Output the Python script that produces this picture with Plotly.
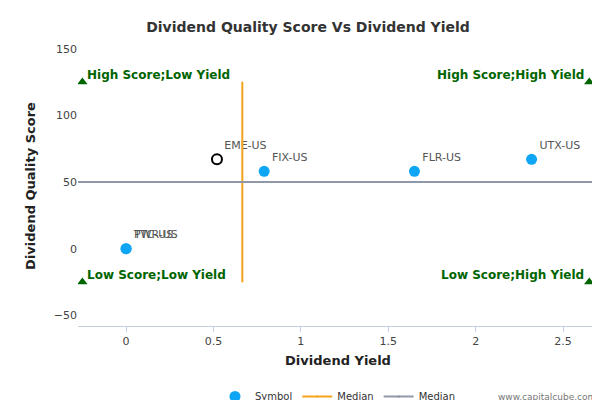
import plotly.graph_objects as go

# Data
symbols = ["PWR-US", "TTC-US", "FIX-US", "FLR-US", "UTX-US"]
yields = [0.0, 0.0, 0.79, 1.65, 2.32]
scores = [0, 0, 58, 58, 67]

focus_symbol = ["EME-US"]
focus_yield = [0.52]
focus_score = [67]

median_yield = 0.665
median_score = 50
x_min, x_max = -0.25, 2.65
score_lo, score_hi = -25, 125

corner_text = ["High Score;Low Yield", "High Score;High Yield",
               "Low Score;Low Yield", "Low Score;High Yield"]
corner_x = [x_min, x_max, x_min, x_max]
corner_y = [score_hi, score_hi, score_lo, score_lo]

font = "DejaVu Sans"
fig = go.Figure()

fig.add_trace(go.Scatter(
    x=yields, y=scores, mode="markers+text", name="Symbol",
    text=symbols, textposition="top right",
    textfont=dict(size=11, color="#555555"),
    marker=dict(size=11, color="#0ea5f5"),
))
fig.add_trace(go.Scatter(
    x=focus_yield, y=focus_score, mode="markers+text", showlegend=False,
    text=focus_symbol, textposition="top right",
    textfont=dict(size=11, color="#555555"),
    marker=dict(size=10, color="white", line=dict(color="black", width=2)),
))
fig.add_trace(go.Scatter(
    x=[median_yield, median_yield], y=[score_lo, score_hi], mode="lines+markers",
    name="Median", line=dict(color="#f7a21b", width=2),
    marker=dict(symbol="diamond", size=1, color="#f7a21b"),
))
fig.add_trace(go.Scatter(
    x=[-0.3, 2.75], y=[median_score, median_score], mode="lines+markers",
    name="Median", line=dict(color="#8f98a8", width=2),
    marker=dict(symbol="square", size=1, color="#8f98a8"),
))
fig.add_trace(go.Scatter(
    x=corner_x, y=corner_y, mode="markers", showlegend=False,
    marker=dict(symbol="triangle-up", size=9, color="#006400"),
))

for t, x, y in zip(corner_text, corner_x, corner_y):
    left = x == x_min
    fig.add_annotation(
        x=x, y=y, text="<b>%s</b>" % t, showarrow=False,
        xanchor="left" if left else "right", yanchor="bottom",
        xshift=3 if left else -3, yshift=-2,
        font=dict(size=12, color="#006400", family=font),
    )

fig.add_annotation(
    x=1, y=0, xref="paper", yref="paper", yshift=-78, xanchor="right",
    text="www.capitalcube.com", showarrow=False,
    font=dict(size=9, color="#777777"),
)

fig.update_layout(
    width=600, height=400,
    paper_bgcolor="white", plot_bgcolor="white",
    font=dict(family=font, size=11, color="#444444"),
    title=dict(text="<b>Dividend Quality Score Vs Dividend Yield</b>",
               x=0.5, y=0.965, font=dict(size=14, color="#333333")),
    margin=dict(l=70, r=10, t=38, b=82, autoexpand=False),
    xaxis=dict(title=dict(text="<b>Dividend Yield</b>", font=dict(size=13, color="#222"),
                          standoff=8),
               range=[-0.275, 2.7], tickvals=[0, 0.5, 1, 1.5, 2, 2.5],
               ticktext=["0", "0.5", "1", "1.5", "2", "2.5"],
               showgrid=False, zeroline=False, showline=True, linecolor="#c0d0e0",
               ticks="outside", tickcolor="#c0d0e0"),
    yaxis=dict(title=dict(text="<b>Dividend Quality Score</b>", font=dict(size=13, color="#222")),
               range=[-58, 152], tickvals=[-50, 0, 50, 100, 150],
               showgrid=False, zeroline=False),
    legend=dict(orientation="h", x=0.5, xanchor="center", y=-0.2, yanchor="top",
                font=dict(size=10, color="#333"), itemsizing="trace"),
)

fig.write_html("out.html")
